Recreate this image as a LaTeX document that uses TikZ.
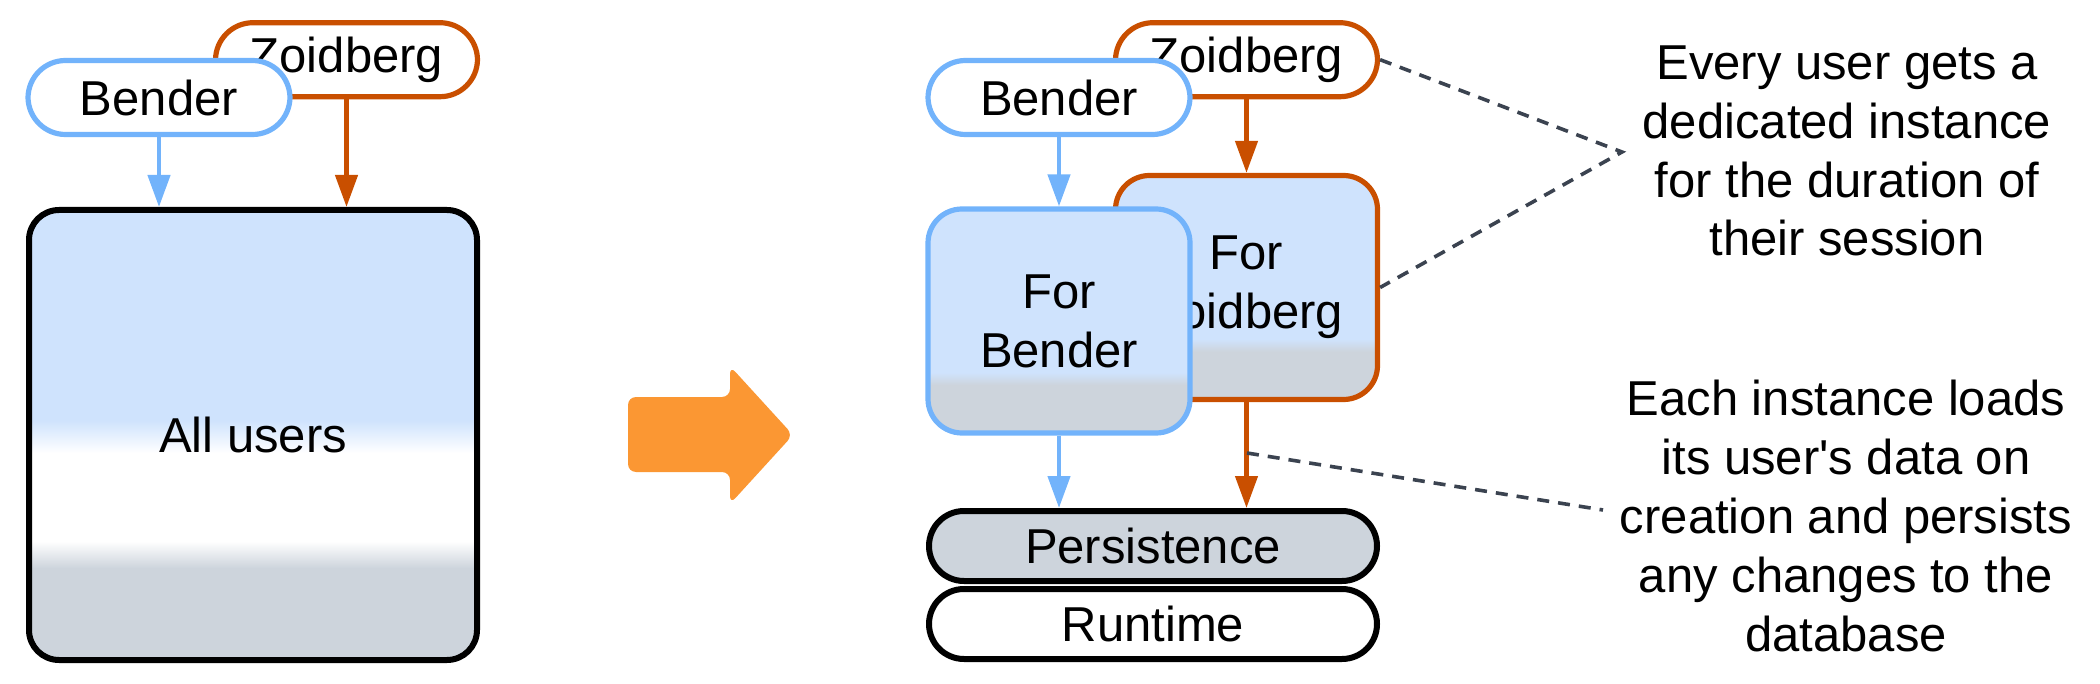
\documentclass[tikz,border=0pt]{standalone}
\usepackage{fontspec}
\setmainfont{Liberation Sans}
\usetikzlibrary{arrows.meta}
\definecolor{bluec}{HTML}{CFE3FD}
\definecolor{grayc}{HTML}{CDD4DC}
\definecolor{blueb}{HTML}{72B3FB}
\definecolor{orangeb}{HTML}{C94F00}
\definecolor{bigarrowc}{HTML}{FB9733}
\definecolor{dashc}{HTML}{3B4350}
\pgfdeclareverticalshading{allusers}{100bp}{color(0bp)=(grayc); color(35.2bp)=(grayc); color(38.2bp)=(white); color(48bp)=(white); color(51.6bp)=(bluec); color(100bp)=(bluec)}
\pgfdeclareverticalshading{inst}{100bp}{color(0bp)=(grayc); color(35.7bp)=(grayc); color(38.5bp)=(bluec); color(100bp)=(bluec)}
\begin{document}
\begin{tikzpicture}[x=0.5pt,y=-0.5pt, font=\fontsize{24.5}{29.4}\selectfont,
 pill/.style={draw, rounded corners=18.75pt, minimum width=131pt, minimum height=37pt, inner sep=0pt, fill=white},
 bluepill/.style={pill, draw=blueb, line width=2.6pt},
 orangepill/.style={pill, draw=orangeb, line width=2.6pt},
 blackpill/.style={pill, draw=black, line width=3pt, minimum width=224pt, minimum height=35pt, rounded corners=17.5pt},
 instbox/.style={shade, shading=inst, line width=2.6pt, rounded corners=17pt, minimum width=131pt, minimum height=112pt, inner sep=0pt, align=center},
 bluearrow/.style={draw=blueb, line width=2.2pt, -{Triangle[length=16pt,width=11pt]}},
 orangearrow/.style={draw=orangeb, line width=2.2pt, -{Triangle[length=16pt,width=11pt]}},
 note/.style={align=center, inner sep=0pt},
 dashline/.style={draw=dashc, line width=1.8pt, dash pattern=on 6pt off 4.5pt}]
\useasboundingbox (0,0) rectangle (2100,684);

% ---- left side
\node[orangepill] (zL) at (346.5,59.7) {Zoidberg};
\node[bluepill] (bL) at (159,97.5) {Bender};
\node[draw=black, line width=3pt, shade, shading=allusers, rounded corners=15pt,
      minimum width=224pt, minimum height=225pt, inner sep=0pt] (all) at (253,435) {All users};
\draw[bluearrow] (bL.south) -- (bL.south |- all.north);
\draw[orangearrow] (zL.south) -- (zL.south |- all.north);

% ---- big arrow
\fill[bigarrowc, rounded corners=4pt] (628,397) -- (730,397) -- (730,366) -- (793,435) -- (730,504) -- (730,472) -- (628,472) -- cycle;

% ---- right side
\node[orangepill] (zR) at (1246.5,59.7) {Zoidberg};
\node[bluepill] (bR) at (1059,97.5) {Bender};
\node[instbox, draw=orangeb] (fz) at (1246.5,287.5) {For\\Zoidberg};
\node[instbox, draw=blueb] (fb) at (1059,321) {For\\Bender};
\node[blackpill, fill=grayc] (pers) at (1153,546) {Persistence};
\node[blackpill] (run) at (1153,624) {Runtime};

\draw[orangearrow] (zR.south) -- (fz.north);
\draw[bluearrow] (bR.south) -- (fb.north);
\draw[bluearrow] (fb.south) -- (fb.south |- pers.north);
\draw[orangearrow] (fz.south) -- (fz.south |- pers.north);

% ---- notes
\node[note] (n1) at (1847,151) {Every user gets a\\dedicated instance\\for the duration of\\their session};
\node[note] (n2) at (1846,516) {Each instance loads\\its user\textquotesingle s data on\\creation and persists\\any changes to the\\database};

\coordinate (c1) at (1622,152);
\coordinate (d0) at (1247,453);
\coordinate (d1) at (1603,510);
\draw[dashline] (zR.east) -- (c1) -- (fz.east);
\draw[dashline] (d0) -- (d1);
\end{tikzpicture}
\end{document}
